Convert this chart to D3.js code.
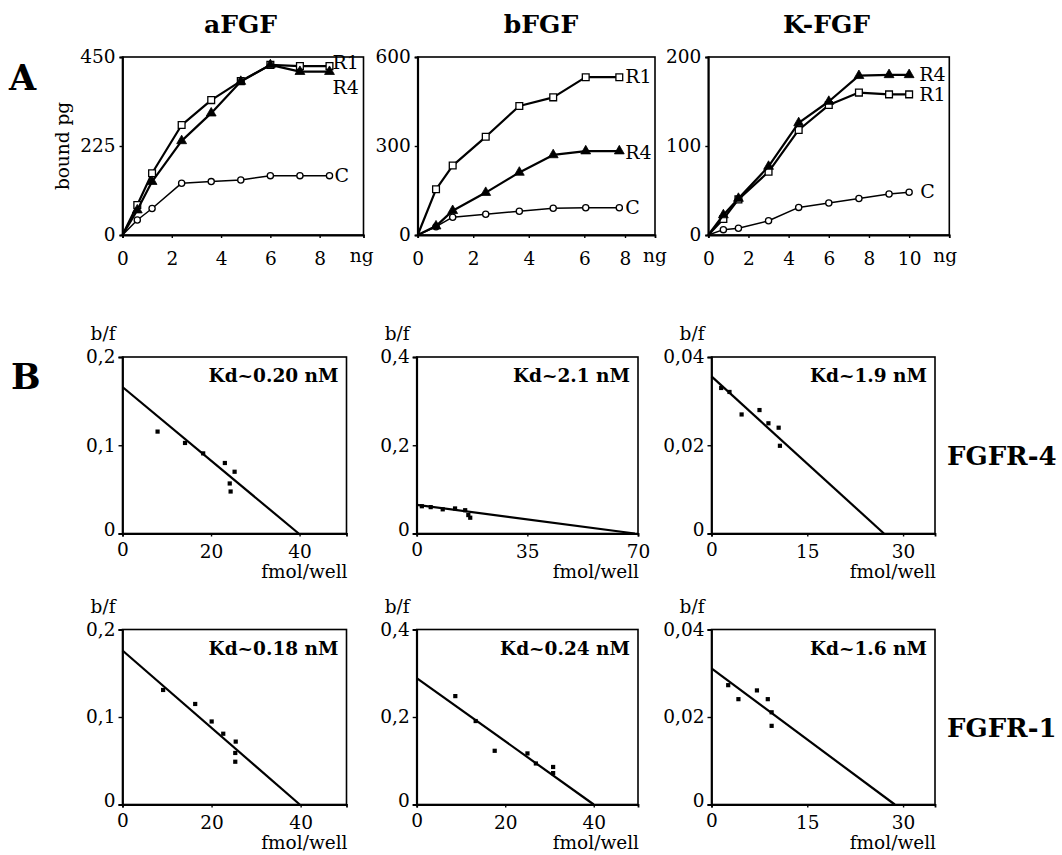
<!DOCTYPE html>
<html><head><meta charset="utf-8">
<script src="https://cdn.jsdelivr.net/npm/d3@7"></script>
<style>
html,body{margin:0;padding:0;background:#fff;}
svg{display:block;font-family:"DejaVu Serif",serif;}
</style></head>
<body><svg id="c" width="1062" height="855"></svg>
<script>
// ---------- DATA ----------
const titles = ["aFGF", "bFGF", "K-FGF"];
const seriesNames = ["R1", "R4", "C"];

const aFGF_x  = [0, 0.6, 1.2, 2.4, 3.6, 4.8, 6.0, 7.2, 8.4];
const aFGF_R1 = [0, 76, 156, 278, 341, 389, 430, 427, 427];
const aFGF_R4 = [0, 63, 135, 238, 308, 388, 430, 413, 413];
const aFGF_C  = [0, 38, 67, 131, 135, 139, 150, 150, 150];

const bFGF_x  = [0, 0.66, 1.26, 2.45, 3.66, 4.88, 6.07, 7.72];
const bFGF_R1 = [0, 154, 234, 331, 435, 464, 532, 532];
const bFGF_R4 = [0, 30, 82, 143, 211, 270, 283, 283];
const bFGF_C  = [0, 28, 60, 70, 80, 90, 92, 92];

const KFGF_x  = [0, 0.75, 1.5, 3, 4.5, 6, 7.5, 9, 10];
const KFGF_R1 = [0, 18, 40, 71, 118, 146, 160, 158, 158];
const KFGF_R4 = [0, 22.5, 41, 77, 126, 150, 179, 180, 180];
const KFGF_C  = [0, 6, 7.5, 16, 31, 36, 41, 46, 48];

const aYTicks = [[0, 225, 450], [0, 300, 600], [0, 100, 200]];
const aXTicks = [[0, 2, 4, 6, 8], [0, 2, 4, 6, 8], [0, 2, 4, 6, 8, 10]];

// Scatchard panels (row: FGFR-4, FGFR-1)
const receptors = ["FGFR-4", "FGFR-1"];
const kdLabels = ["Kd~0.20 nM", "Kd~2.1 nM", "Kd~1.9 nM", "Kd~0.18 nM", "Kd~0.24 nM", "Kd~1.6 nM"];
const b1_x = [7.9, 14.1, 18.2, 23.1, 25.3, 24.2, 24.4];
const b1_y = [0.1156, 0.1027, 0.0909, 0.080, 0.0701, 0.0568, 0.0477];
const b1_fit = [[0, 0.166], [39.8, 0]];
const b2_x = [1.6, 4.4, 8.2, 12.1, 15.3, 16.3, 16.9];
const b2_y = [0.062, 0.060, 0.055, 0.057, 0.053, 0.042, 0.036];
const b2_fit = [[0, 0.065], [69, 0]];
const b3_x = [1.5, 2.8, 4.7, 7.5, 8.9, 10.5, 10.7];
const b3_y = [0.033, 0.0321, 0.027, 0.028, 0.025, 0.024, 0.0199];
const b3_fit = [[0, 0.0356], [27, 0]];
const b4_x = [9.1, 16.3, 20.0, 22.6, 25.4, 25.3, 25.3];
const b4_y = [0.131, 0.115, 0.095, 0.081, 0.072, 0.059, 0.049];
const b4_fit = [[0, 0.176], [39.8, 0]];
const b5_x = [8.7, 13.3, 17.6, 25.0, 26.9, 30.8, 30.8];
const b5_y = [0.248, 0.191, 0.123, 0.117, 0.094, 0.086, 0.072];
const b5_fit = [[0, 0.289], [40, 0]];
const b6_x = [2.6, 4.2, 7.1, 8.8, 9.4, 9.4];
const b6_y = [0.0273, 0.0241, 0.0261, 0.0241, 0.0211, 0.018];
const b6_fit = [[0, 0.0311], [28.7, 0]];
const bXMax   = [50.6, 70, 35, 50.3, 50, 35];
const bXTicks = [[0, 20, 40], [0, 35, 70], [0, 15, 30], [0, 20, 40], [0, 20, 40], [0, 15, 30]];
const bYTicks = [[0, 0.1, 0.2], [0, 0.2, 0.4], [0, 0.02, 0.04]];

// ---------- LAYOUT ----------
const svg = d3.select("#c");
const FONT = "DejaVu Serif";

const colX = [[122.5, 363.5], [417.7, 655], [708.3, 949.3]];
const aTop = 57, aBot = 235;

function frame(g, x0, y0, x1, y1) {
  g.append("rect").attr("x", x0).attr("y", y0).attr("width", x1 - x0).attr("height", y1 - y0)
    .attr("fill", "none").attr("stroke", "#000").attr("stroke-width", 1.6);
}

function fmtComma(d) { return d === 0 ? "0" : String(d).replace(".", ","); }

// ---------- PANEL A ----------
const aData = [
  {x: aFGF_x, s: [aFGF_R1, aFGF_R4, aFGF_C], xs: d3.scaleLinear().domain([0, 9.78]), ng: 42,
   labels: [{n: "R1", dx: 3, dy: 3}, {n: "R4", dx: 3, dy: 22}, {n: "C", dx: 5, dy: 6}]},
  {x: bFGF_x, s: [bFGF_R1, bFGF_R4, bFGF_C], xs: d3.scaleLinear().domain([0, 6, 8, 9.47]), ng: 30,
   labels: [{n: "R1", dx: 6, dy: 6}, {n: "R4", dx: 6, dy: 8}, {n: "C", dx: 6, dy: 6}]},
  {x: KFGF_x, s: [KFGF_R1, KFGF_R4, KFGF_C], xs: d3.scaleLinear().domain([0, 12]), ng: 36,
   labels: [{n: "R1", dx: 10, dy: 7}, {n: "R4", dx: 10, dy: 6}, {n: "C", dx: 11, dy: 6}]}
];

aData.forEach((p, i) => {
  const g = svg.append("g");
  const [x0, x1] = colX[i];
  const dom = p.xs.domain();
  if (dom.length === 2) p.xs.range([x0, x1]);
  else p.xs.range([x0, x0 + 166.6, x0 + 207.3, x1]);
  const xs = p.xs;
  const yMax = aYTicks[i][2];
  const ys = d3.scaleLinear().domain([0, yMax]).range([aBot, aTop]);
  frame(g, x0, aTop, x1, aBot);

  const xa = g.append("g").attr("transform", `translate(0,${aBot})`)
    .call(d3.axisBottom(xs).tickValues(aXTicks[i]).tickSize(3).tickPadding(10).tickFormat(d3.format("d")));
  const ya = g.append("g").attr("transform", `translate(${x0},0)`)
    .call(d3.axisLeft(ys).tickValues(aYTicks[i]).tickSize(3).tickPadding(4).tickFormat(d3.format("d")));
  [xa, ya].forEach(a => {
    a.select(".domain").attr("stroke-width", 1.8);
    a.selectAll(".tick line").attr("stroke-width", 1.4);
    a.selectAll("text").attr("font-family", FONT).attr("font-size", 18.5).attr("fill", "#000");
  });
  xa.selectAll("text").attr("dy", "0.9em");

  const lastTick = aXTicks[i][aXTicks[i].length - 1];
  g.append("text").attr("x", xs(lastTick) + p.ng)
    .attr("y", aBot + 27).attr("font-family", FONT).attr("font-size", 18.5).attr("text-anchor", "middle").text("ng");

  g.append("text").attr("x", [240.5, 541, 826.5][i]).attr("y", 33).attr("text-anchor", "middle")
    .attr("font-family", FONT).attr("font-weight", "bold").attr("font-size", 25).text(titles[i]);

  const line = d3.line().x(d => xs(d[0])).y(d => ys(d[1]));
  const order = [2, 0, 1];
  order.forEach(k => {
    const pts = p.x.map((xv, j) => [xv, p.s[k][j]]);
    g.append("path").attr("d", line(pts)).attr("fill", "none").attr("stroke", "#000")
      .attr("stroke-width", k === 2 ? 1.5 : 2.2).attr("stroke-linejoin", "round");
    const mk = g.append("g");
    pts.slice(1).forEach(d => {
      if (k === 0) {
        mk.append("path").attr("d", d3.symbol(d3.symbolSquare, 46)())
          .attr("transform", `translate(${xs(d[0])},${ys(d[1])})`)
          .attr("fill", "#fff").attr("stroke", "#000").attr("stroke-width", 1.3);
      } else if (k === 1) {
        mk.append("path").attr("d", d3.symbol(d3.symbolTriangle, 42)())
          .attr("transform", `translate(${xs(d[0])},${ys(d[1])})`)
          .attr("fill", "#000").attr("stroke", "#000").attr("stroke-width", 0.8);
      } else {
        mk.append("circle").attr("cx", xs(d[0])).attr("cy", ys(d[1])).attr("r", 3.1)
          .attr("fill", "#fff").attr("stroke", "#000").attr("stroke-width", 1.3);
      }
    });
    const last = pts[pts.length - 1];
    const lab = p.labels[k];
    g.append("text").attr("x", xs(last[0]) + lab.dx).attr("y", ys(last[1]) + lab.dy)
      .attr("font-family", FONT).attr("font-size", 19).text(lab.n);
  });
});

svg.append("text").attr("transform", "translate(69,146) rotate(-90)").attr("text-anchor", "middle")
  .attr("font-family", FONT).attr("font-size", 18.5).text("bound pg");

svg.append("text").attr("x", 9).attr("y", 90).attr("font-family", FONT).attr("font-weight", "bold")
  .attr("font-size", 35).text("A");
svg.append("text").attr("x", 11).attr("y", 389).attr("font-family", FONT).attr("font-weight", "bold")
  .attr("font-size", 35).text("B");

// ---------- PANEL B ----------
const bCols = [[122.5, 346.5], [416.7, 638], [711.5, 935]];
const bRows = [[357, 533.5], [629.5, 804.5]];
const bPanels = [
  {x: b1_x, y: b1_y, fit: b1_fit}, {x: b2_x, y: b2_y, fit: b2_fit}, {x: b3_x, y: b3_y, fit: b3_fit},
  {x: b4_x, y: b4_y, fit: b4_fit}, {x: b5_x, y: b5_y, fit: b5_fit}, {x: b6_x, y: b6_y, fit: b6_fit}
];

bPanels.forEach((p, idx) => {
  const r = Math.floor(idx / 3), c = idx % 3;
  const [x0, x1] = bCols[c];
  const [y0, y1] = bRows[r];
  const g = svg.append("g");
  const xs = d3.scaleLinear().domain([0, bXMax[idx]]).range([x0, x1]);
  const ys = d3.scaleLinear().domain([0, bYTicks[c][2]]).range([y1, y0]);
  frame(g, x0, y0, x1, y1);
  const xa = g.append("g").attr("transform", `translate(0,${y1})`)
    .call(d3.axisBottom(xs).tickValues(bXTicks[idx]).tickSize(3).tickPadding(8).tickFormat(d3.format("d")));
  const ya = g.append("g").attr("transform", `translate(${x0},0)`)
    .call(d3.axisLeft(ys).tickValues(bYTicks[c]).tickSize(4).tickPadding(3).tickFormat(fmtComma));
  [xa, ya].forEach(a => {
    a.select(".domain").attr("stroke-width", 1.8);
    a.selectAll(".tick line").attr("stroke-width", 1.4);
    a.selectAll("text").attr("font-family", FONT).attr("font-size", 18.5).attr("fill", "#000");
  });
  ya.selectAll(".tick").filter(d => d === 0).select("text").attr("dy", "0.1em");
  xa.selectAll(".tick").filter(d => d === 0).select("text").attr("dy", "0.62em");

  g.append("text").attr("x", x0 - 7).attr("y", y0 - 17).attr("text-anchor", "end")
    .attr("font-family", FONT).attr("font-size", 18.5).text("b/f");
  g.append("text").attr("x", x1 + 1).attr("y", y1 + 44).attr("text-anchor", "end")
    .attr("font-family", FONT).attr("font-size", 18.5).text("fmol/well");
  g.append("text").attr("x", x1 - 8).attr("y", y0 + 25).attr("text-anchor", "end")
    .attr("font-family", FONT).attr("font-weight", "bold").attr("font-size", 18.5).text(kdLabels[idx]);

  g.append("path").attr("d", d3.line().x(d => xs(d[0])).y(d => ys(d[1]))(p.fit))
    .attr("fill", "none").attr("stroke", "#000").attr("stroke-width", 2.2);
  p.x.forEach((xv, j) => {
    g.append("rect").attr("x", xs(xv) - 2).attr("y", ys(p.y[j]) - 2).attr("width", 4.2).attr("height", 4.2)
      .attr("fill", "#000");
  });
});

receptors.forEach((t, r) => {
  svg.append("text").attr("x", 947).attr("y", [465, 737][r]).attr("font-family", FONT)
    .attr("font-weight", "bold").attr("font-size", 26).text(t);
});
</script></body></html>
